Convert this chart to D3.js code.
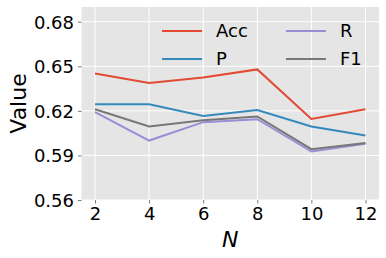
<!DOCTYPE html>
<html>
<head>
<meta charset="utf-8">
<script src="https://cdn.jsdelivr.net/npm/d3@7"></script>
<style>
  body { margin: 0; background: #fff; }
  text { font-family: "DejaVu Sans", sans-serif; }
</style>
</head>
<body>
<script>
// data
var nValues = [2, 4, 6, 8, 10, 12];
var accValues = [0.6452, 0.6387, 0.6425, 0.6479, 0.6146, 0.6211];
var pValues = [0.6245, 0.6245, 0.6166, 0.6205, 0.6095, 0.6034];
var rValues = [0.6191, 0.6000, 0.6124, 0.6144, 0.5926, 0.5978];
var f1Values = [0.6211, 0.6095, 0.6137, 0.6162, 0.5942, 0.5984];
var yTicks = [0.56, 0.59, 0.62, 0.65, 0.68];

var series = [
  {name: "Acc", values: accValues, color: "#E24A33"},
  {name: "P", values: pValues, color: "#348ABD"},
  {name: "R", values: rValues, color: "#988ED5"},
  {name: "F1", values: f1Values, color: "#777777"}
];

var width = 386, height = 258;
var margin = {top: 7, right: 7, bottom: 58, left: 81.5};

var svg = d3.select("body").append("svg")
    .attr("width", width)
    .attr("height", height);

var x = d3.scaleLinear()
    .domain([1.5, 12.5])
    .range([margin.left, width - margin.right]);

var y = d3.scaleLinear()
    .domain([0.56, 0.6899])
    .range([height - margin.bottom, margin.top]);

//plot background
svg.append("rect")
    .attr("x", x.range()[0])
    .attr("y", y.range()[1])
    .attr("width", x.range()[1] - x.range()[0])
    .attr("height", y.range()[0] - y.range()[1])
    .attr("fill", "#E5E5E5");

//grid
svg.append("g").selectAll("line")
    .data(nValues)
    .enter().append("line")
    .attr("x1", d => x(d)).attr("x2", d => x(d))
    .attr("y1", y.range()[0]).attr("y2", y.range()[1])
    .attr("stroke", "#fff").attr("stroke-width", 1);

svg.append("g").selectAll("line")
    .data(yTicks)
    .enter().append("line")
    .attr("x1", x.range()[0]).attr("x2", x.range()[1])
    .attr("y1", d => y(d)).attr("y2", d => y(d))
    .attr("stroke", "#fff").attr("stroke-width", 1);

//axes
var xAxis = svg.append("g")
    .attr("transform", "translate(0," + (height - margin.bottom) + ")")
    .call(d3.axisBottom(x).tickValues(nValues).tickSize(3.5).tickPadding(4));

var yAxis = svg.append("g")
    .attr("transform", "translate(" + margin.left + ",0)")
    .call(d3.axisLeft(y).tickValues(yTicks).tickFormat(d3.format(".2f")).tickSize(3.5).tickPadding(4));

[xAxis, yAxis].forEach(function(a) {
  a.select(".domain").remove();
  a.selectAll(".tick line").attr("stroke", "#555").attr("stroke-width", 0.8);
  a.selectAll(".tick text")
      .attr("fill", "#000")
      .style("font-size", "18px")
      .style("font-family", "DejaVu Sans");
});
yAxis.selectAll(".tick text").attr("dy", "0.36em");

//lines
var line = d3.line()
    .x((d, i) => x(nValues[i]))
    .y(d => y(d));

svg.append("g").selectAll("path")
    .data(series)
    .enter().append("path")
    .attr("d", d => line(d.values))
    .attr("fill", "none")
    .attr("stroke", d => d.color)
    .attr("stroke-width", 2);

//axis labels
svg.append("text")
    .attr("transform", "translate(26," + ((margin.top + height - margin.bottom) / 2) + ") rotate(-90)")
    .attr("text-anchor", "middle")
    .style("font-size", "22px")
    .text("Value");

svg.append("text")
    .attr("x", (x.range()[0] + x.range()[1]) / 2)
    .attr("y", 247)
    .attr("text-anchor", "middle")
    .style("font-size", "22px")
    .style("font-style", "italic")
    .text("N");

//legend
var legend = svg.append("g").selectAll("g")
    .data(series)
    .enter().append("g")
    .attr("transform", (d, i) => "translate(" + (162 + Math.floor(i / 2) * 124) + "," + (31 + (i % 2) * 28) + ")");

legend.append("line")
    .attr("x1", 0).attr("x2", 40)
    .attr("stroke", d => d.color)
    .attr("stroke-width", 2);

legend.append("text")
    .attr("x", 54)
    .attr("dy", "0.36em")
    .style("font-size", "18px")
    .text(d => d.name);
</script>
</body>
</html>
